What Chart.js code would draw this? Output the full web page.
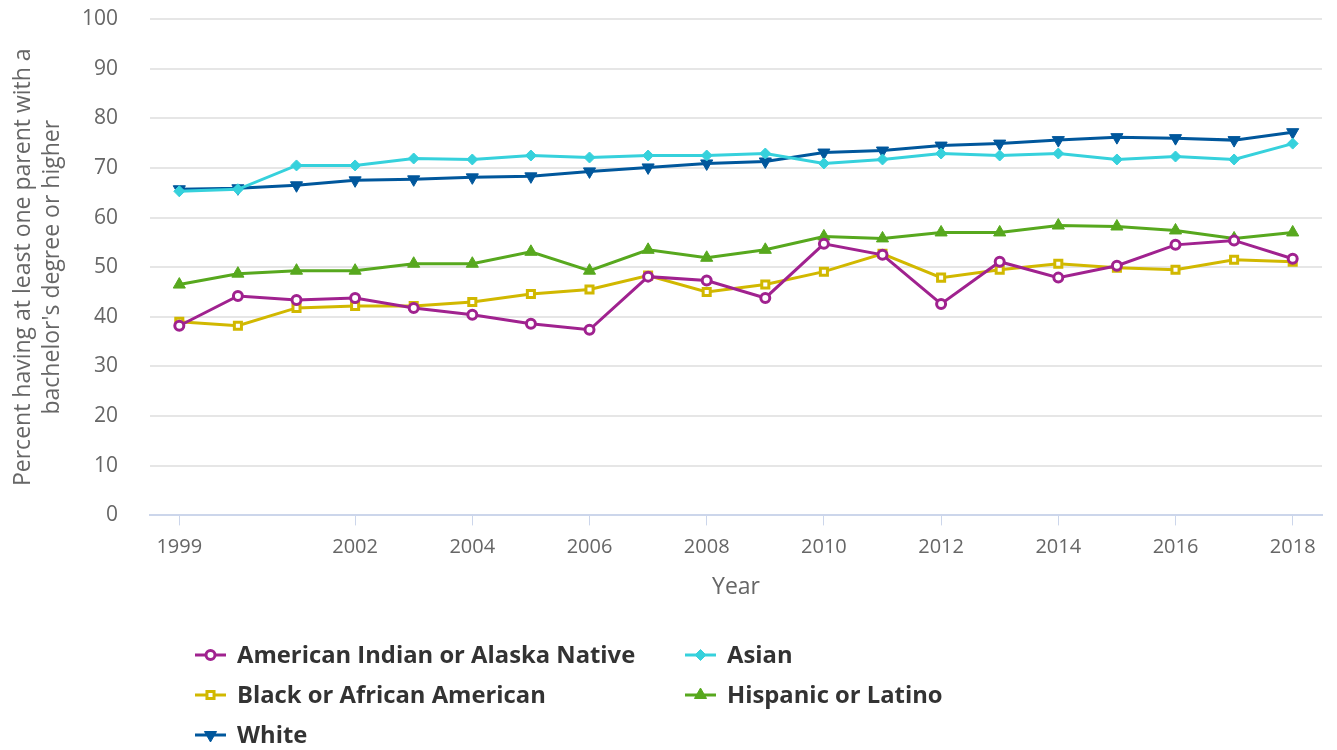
<!DOCTYPE html>
<html>
<head>
<meta charset="utf-8">
<script src="https://cdn.jsdelivr.net/npm/chart.js@4.4.1/dist/chart.umd.min.js"></script>
<style>
  html, body { margin: 0; padding: 0; background: #fff; }
  #wrap { width: 1337px; height: 750px; }
</style>
</head>
<body>
<div id="wrap"><canvas id="chart" width="1337" height="750"></canvas></div>
<script>
const years = [1999, 2000, 2001, 2002, 2003, 2004, 2005, 2006, 2007, 2008, 2009, 2010, 2011, 2012, 2013, 2014, 2015, 2016, 2017, 2018];
const tickYears = [1999, 2002, 2004, 2006, 2008, 2010, 2012, 2014, 2016, 2018];

const americanIndian = [38.2, 44.2, 43.4, 43.8, 41.8, 40.4, 38.6, 37.4, 48.1, 47.3, 43.8, 54.7, 52.5, 42.6, 51.1, 47.9, 50.3, 54.5, 55.4, 51.7];
const asian = [65.3, 65.7, 70.5, 70.5, 71.9, 71.7, 72.5, 72.1, 72.5, 72.5, 72.9, 70.9, 71.7, 72.9, 72.5, 72.9, 71.7, 72.3, 71.7, 74.9];
const black = [39.0, 38.2, 41.8, 42.2, 42.2, 43.0, 44.6, 45.5, 48.3, 45.0, 46.5, 49.1, 52.7, 47.9, 49.5, 50.7, 49.9, 49.5, 51.5, 51.1];
const hispanic = [46.5, 48.7, 49.3, 49.3, 50.7, 50.7, 53.1, 49.3, 53.5, 51.9, 53.5, 56.2, 55.8, 57.0, 57.0, 58.4, 58.2, 57.4, 55.8, 57.0];
const white = [65.7, 65.9, 66.5, 67.5, 67.7, 68.1, 68.3, 69.3, 70.1, 70.9, 71.3, 73.1, 73.5, 74.5, 74.9, 75.6, 76.2, 76.0, 75.6, 77.2];

const toPoints = vals => vals.map((v, i) => ({ x: years[i], y: v }));

const FONT = "'Open Sans', 'Noto Sans', sans-serif";

function series(label, vals, color, style, opts) {
    return Object.assign({
        label: label,
        data: toPoints(vals),
        borderColor: color,
        backgroundColor: color,
        borderWidth: 3,
        pointStyle: style,
        pointRadius: 5,
        pointBorderWidth: 3,
        pointBorderColor: color,
        pointBackgroundColor: color,
        pointRotation: 0,
        tension: 0
    }, opts || {});
}

const datasets = [
    series('American Indian or Alaska Native', americanIndian, '#a0228f', 'circle', { pointBackgroundColor: '#fff', pointRadius: 4.5 }),
    series('Asian', asian, '#36d1dc', 'rectRot', { pointRadius: 5.5, pointBorderWidth: 1 }),
    series('Black or African American', black, '#d1b800', 'rect', { pointBackgroundColor: '#fff', pointRadius: 5 }),
    series('Hispanic or Latino', hispanic, '#57a81e', 'triangle', { pointRadius: 7, pointBorderWidth: 1 }),
    series('White', white, '#00579c', 'triangle', { pointRadius: 7, pointBorderWidth: 1, pointRotation: 180 })
];

// legend drawn in two columns like the original
const legendPlugin = {
    id: 'colLegend',
    afterDraw(chart) {
        const ctx = chart.ctx;
        const cols = [195, 685];
        const rows = [655, 695, 735];
        ctx.save();
        chart.data.datasets.forEach((ds, i) => {
            const x = cols[i % 2];
            const y = rows[Math.floor(i / 2)];
            ctx.strokeStyle = ds.borderColor;
            ctx.lineWidth = 3;
            ctx.beginPath();
            ctx.moveTo(x, y);
            ctx.lineTo(x + 31, y);
            ctx.stroke();
            ctx.fillStyle = ds.pointBackgroundColor;
            ctx.strokeStyle = ds.pointBorderColor;
            ctx.lineWidth = ds.pointBorderWidth;
            Chart.helpers.drawPoint(ctx, {
                pointStyle: ds.pointStyle,
                rotation: ds.pointRotation,
                radius: ds.pointRadius,
                borderWidth: ds.pointBorderWidth
            }, x + 15.5, y);
            ctx.fillStyle = '#333333';
            ctx.font = "bold 23.8px " + FONT;
            ctx.textBaseline = 'middle';
            ctx.textAlign = 'left';
            ctx.fillText(ds.label, x + 42, y + 1);
        });
        ctx.restore();
    }
};

const config = {
    type: 'line',
    data: { datasets: datasets },
    plugins: [legendPlugin],
    options: {
        responsive: false,
        animation: false,
        layout: {
            padding: { top: 19, right: 15, bottom: 149, left: 0 }
        },
        plugins: {
            legend: { display: false },
            tooltip: { enabled: false }
        },
        scales: {
            x: {
                type: 'linear',
                min: 1998.5,
                max: 2018.5,
                afterBuildTicks: scale => {
                    scale.ticks = tickYears.map(v => ({ value: v }));
                },
                ticks: {
                    autoSkip: false,
                    maxRotation: 0,
                    color: '#666666',
                    padding: 10,
                    font: { family: FONT, size: 20 },
                    callback: v => String(v)
                },
                grid: {
                    drawOnChartArea: false,
                    color: '#ccd6eb',
                    lineWidth: 1,
                    tickLength: 10
                },
                border: { color: '#ccd6eb', width: 2 },
                title: {
                    display: true,
                    text: 'Year',
                    color: '#666666',
                    font: { family: FONT, size: 23 },
                    padding: { top: 4, bottom: 0 }
                }
            },
            y: {
                min: 0,
                max: 100,
                afterFit: scale => { scale.width = 150; },
                ticks: {
                    stepSize: 10,
                    color: '#666666',
                    padding: 2,
                    font: { family: FONT, size: 21 }
                },
                grid: {
                    color: '#e6e6e6',
                    lineWidth: 2,
                    drawTicks: true,
                    tickLength: 30,
                    tickColor: 'rgba(0,0,0,0)'
                },
                border: { display: false },
                title: {
                    display: true,
                    text: ['Percent having at least one parent with a', "bachelor's degree or higher"],
                    color: '#666666',
                    font: { family: FONT, size: 23, lineHeight: 1.25 },
                    padding: { top: 9, bottom: 0 }
                }
            }
        }
    }
};

new Chart(document.getElementById('chart'), config);
</script>
</body>
</html>
